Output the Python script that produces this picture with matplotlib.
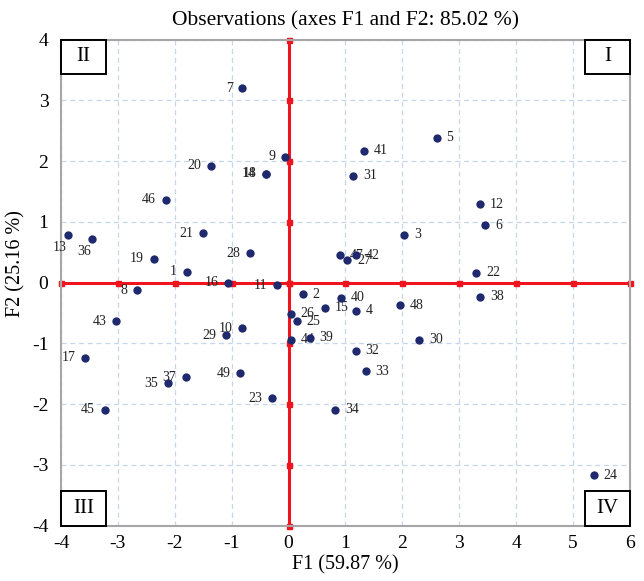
import matplotlib

matplotlib.use("Agg")

import matplotlib.pyplot as plt
from matplotlib.patches import Rectangle

obs = list(range(1, 50))
f1 = [-1.79, 0.25, 2.03, 1.19, 2.60, 3.46, -0.81, -2.67, -0.06, -0.82,
      -0.20, 3.36, -3.87, -0.40, 0.64, -1.06, -3.57, -0.39, -2.37, -1.37,
      -1.50, 3.30, -0.30, 5.37, 0.14, 0.04, 1.03, -0.67, -1.10, 2.30,
      1.14, 1.18, 1.36, 0.82, -2.12, -3.45, -1.80, 3.37, 0.37, 0.92,
      1.33, 1.19, -3.03, 0.04, -3.23, -2.16, 0.91, 1.96, -0.85]
f2 = [0.18, -0.19, 0.79, -0.46, 2.38, 0.94, 3.20, -0.13, 2.07, -0.75,
      -0.04, 1.29, 0.79, 1.79, -0.41, 0.00, -1.24, 1.79, 0.39, 1.92,
      0.81, 0.16, -1.90, -3.17, -0.64, -0.51, 0.37, 0.48, -0.87, -0.94,
      1.76, -1.12, -1.46, -2.09, -1.66, 0.72, -1.56, -0.23, -0.91, -0.25,
      2.17, 0.45, -0.64, -0.94, -2.09, 1.36, 0.45, -0.37, -1.49]
below_labels = [13, 36]

x_ticks = [-4, -3, -2, -1, 0, 1, 2, 3, 4, 5, 6]
y_ticks = [-4, -3, -2, -1, 0, 1, 2, 3, 4]
quadrants = ["II", "I", "III", "IV"]

plt.rcParams["font.family"] = ["Liberation Serif", "DejaVu Serif"]
plt.rcParams["axes.unicode_minus"] = False

RED = "#f0141e"
NAVY = "#1f2a6e"

fig = plt.figure(figsize=(6.44, 5.81), dpi=100)
ax = fig.add_axes([0.0947, 0.0952, 0.8835, 0.8368])

ax.set_xlim(x_ticks[0], x_ticks[-1])
ax.set_ylim(y_ticks[0], y_ticks[-1])
ax.set_xticks(x_ticks)
ax.set_yticks(y_ticks)
ax.grid(True, color="#c5d7ee", linestyle=(0, (4, 3)), linewidth=0.9)
ax.set_axisbelow(True)
ax.tick_params(length=0, labelsize=14)
ax.tick_params(axis="x", pad=7)
ax.tick_params(axis="y", pad=9)
for spine in ax.spines.values():
    spine.set_color("#a6a6a6")
    spine.set_linewidth(1.5)

# Red origin axes with small square tick marks
ax.plot(x_ticks, [0] * len(x_ticks), color=RED, lw=2.2, marker="s", ms=3.6,
        zorder=2, clip_on=False)
ax.plot([0] * len(y_ticks), y_ticks, color=RED, lw=2.2, marker="s", ms=3.6,
        zorder=2, clip_on=False)

# Point labels sit under the dots, as in the original
for n, x, y in zip(obs, f1, f2):
    if n in below_labels:
        off, ha, va = (-6, -9), "center", "center"
    elif x < 0:
        off, ha, va = (-7, 0), "right", "center"
    else:
        off, ha, va = (7, 0), "left", "center"
    ax.annotate(str(n), (x, y), xytext=off, textcoords="offset points",
                ha=ha, va=va, fontsize=10, color="#222222", zorder=3)

ax.scatter(f1, f2, s=36, color=NAVY, zorder=4, linewidths=0)

# Quadrant boxes in the corners
bw, bh = 0.079, 0.071
corners = [(0, 1 - bh), (1 - bw, 1 - bh), (0, 0), (1 - bw, 0)]
for label, (cx, cy) in zip(quadrants, corners):
    ax.add_patch(Rectangle((cx, cy), bw, bh, transform=ax.transAxes,
                           facecolor="white", edgecolor="black", lw=1.4,
                           zorder=5, clip_on=False))
    ax.text(cx + bw / 2, cy + bh / 2, label, transform=ax.transAxes,
            ha="center", va="center", fontsize=15, zorder=6)

ax.set_title("Observations (axes F1 and F2: 85.02 %)", fontsize=15.5, pad=10)
ax.set_xlabel("F1 (59.87 %)", fontsize=14.5, labelpad=2)
ax.set_ylabel("F2 (25.16 %)", fontsize=14.5)
ax.yaxis.set_label_coords(-0.062, 0.54)

fig.savefig("out.png", dpi=100)
